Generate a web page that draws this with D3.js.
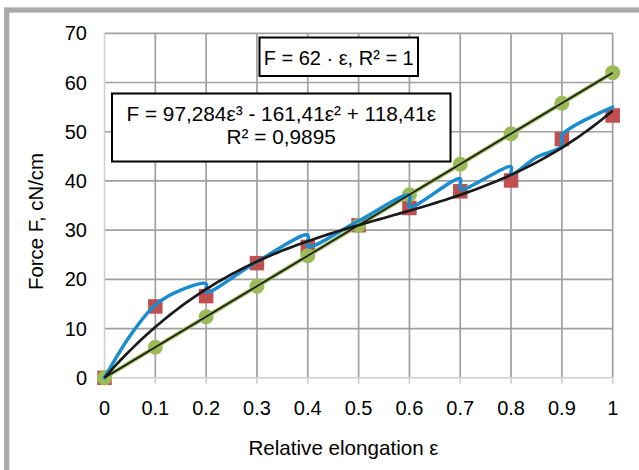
<!DOCTYPE html>
<html>
<head>
<meta charset="utf-8">
<script src="https://cdn.jsdelivr.net/npm/d3@7"></script>
<style>
  html, body { margin: 0; padding: 0; background: #fff; }
  svg { display: block; font-family: "Liberation Sans", Arial, sans-serif; }
</style>
</head>
<body>
<svg id="chart" width="639" height="470"></svg>
<script>
// ---- data ----
const epsilon = [0, 0.1, 0.2, 0.3, 0.4, 0.5, 0.6, 0.7, 0.8, 0.9, 1];
const greenF = [0, 6.2, 12.4, 18.6, 24.8, 31, 37.2, 43.4, 49.6, 55.8, 62];
const redF = [0, 14.5, 16.6, 23.3, 26.6, 31.0, 34.5, 37.9, 40.1, 48.5, 53.3];
const blueE = [0, 0.05, 0.1, 0.15, 0.2, 0.2, 0.3, 0.4, 0.4, 0.5, 0.6, 0.6, 0.7, 0.7, 0.8, 0.8, 0.85, 0.9, 0.9, 1.0];
const blueF = [0, 8.5, 14.8, 17.8, 19.1, 17.4, 23.6, 29.0, 26.7, 31.9, 37.1, 34.7, 40.5, 38.3, 42.9, 41.3, 44.8, 47.1, 49.3, 55.0];
const polyCoef = [0, 118.41, -161.41, 97.284]; // F = c1 e + c2 e^2 + c3 e^3
const linSlope = 62;
const xTicks = [0, 0.1, 0.2, 0.3, 0.4, 0.5, 0.6, 0.7, 0.8, 0.9, 1];
const xTickLabels = ["0", "0.1", "0.2", "0.3", "0.4", "0.5", "0.6", "0.7", "0.8", "0.9", "1"];
const yTicks = [0, 10, 20, 30, 40, 50, 60, 70];
const linLabel = "F = 62 · ε, R² = 1";
const polyLabel1 = "F = 97,284ε³ - 161,41ε² + 118,41ε";
const polyLabel2 = "R² = 0,9895";
const xTitle = "Relative elongation ε";
const yTitle = "Force F, cN/cm";

// ---- drawing ----
const svg = d3.select("#chart");
const FONT = 20;

// frame
svg.append("rect").attr("x", 0).attr("y", 0).attr("width", 639).attr("height", 470).attr("fill", "#fff");
svg.append("rect").attr("x", 6.7).attr("y", 10).attr("width", 700).attr("height", 520)
  .attr("fill", "#fff").attr("stroke", "#a9a9a9").attr("stroke-width", 5.3);

const x = d3.scaleLinear().domain([0, 1]).range([104.5, 612.7]);
const y = d3.scaleLinear().domain([0, 70]).range([377.8, 33.3]);

// grid
const grid = svg.append("g");
grid.selectAll("line.v").data(xTicks.filter(d => d > 0)).join("line")
  .attr("x1", d => x(d)).attr("x2", d => x(d)).attr("y1", y(70)).attr("y2", y(0))
  .attr("stroke", "#a0a0a0").attr("stroke-width", 1.7);
grid.selectAll("line.h").data(yTicks.filter(d => d > 0)).join("line")
  .attr("x1", x(0)).attr("x2", x(1)).attr("y1", d => y(d)).attr("y2", d => y(d))
  .attr("stroke", "#a0a0a0").attr("stroke-width", 1.7);
// axis lines (lighter)
svg.append("line").attr("x1", x(0)).attr("x2", x(0)).attr("y1", y(70)).attr("y2", y(0))
  .attr("stroke", "#d0d0d0").attr("stroke-width", 1.6);
svg.append("line").attr("x1", x(0)).attr("x2", x(1)).attr("y1", y(0)).attr("y2", y(0))
  .attr("stroke", "#d0d0d0").attr("stroke-width", 1.6);
svg.selectAll("line.xt").data(xTicks).join("line")
  .attr("x1", d => x(d)).attr("x2", d => x(d)).attr("y1", y(0)).attr("y2", y(0) + 6)
  .attr("stroke", "#d0d0d0").attr("stroke-width", 1.6);

// tick labels
svg.append("g").selectAll("text").data(xTicks).join("text")
  .attr("x", d => x(d)).attr("y", 415).attr("text-anchor", "middle")
  .attr("font-size", FONT).attr("fill", "#000")
  .text((d, i) => xTickLabels[i]);
svg.append("g").selectAll("text").data(yTicks).join("text")
  .attr("x", 87).attr("y", d => y(d)).attr("dy", "0.35em").attr("text-anchor", "end")
  .attr("font-size", FONT).attr("fill", "#000")
  .text(d => d);

// axis titles
svg.append("text").attr("x", 343.5).attr("y", 455).attr("text-anchor", "middle")
  .attr("font-size", 20.6).attr("fill", "#000").text(xTitle);
svg.append("text").attr("transform", "translate(43,221.5) rotate(-90)").attr("text-anchor", "middle")
  .attr("font-size", 20.4).attr("fill", "#000").text(yTitle);

// red squares
const sq = 14.5;
svg.append("g").selectAll("rect").data(epsilon).join("rect")
  .attr("x", d => x(d) - sq / 2).attr("y", (d, i) => y(redF[i]) - sq / 2)
  .attr("width", sq).attr("height", sq).attr("fill", "#c0504d");

// green line + circles
const greenPts = epsilon.map((e, i) => [e, greenF[i]]);
svg.append("path").datum(greenPts)
  .attr("d", d3.line().x(d => x(d[0])).y(d => y(d[1])))
  .attr("fill", "none").attr("stroke", "#9bbb59").attr("stroke-width", 4);
svg.append("g").selectAll("circle").data(greenPts).join("circle")
  .attr("cx", d => x(d[0])).attr("cy", d => y(d[1])).attr("r", 7.5).attr("fill", "#9bbb59");

// blue line
const bluePts = blueE.map((e, i) => [e, blueF[i]]);
svg.append("path").datum(bluePts)
  .attr("d", d3.line().x(d => x(d[0])).y(d => y(d[1])).curve(d3.curveCatmullRom.alpha(0.5)))
  .attr("fill", "none").attr("stroke", "#1a8dd0").attr("stroke-width", 3.5)
  .attr("stroke-linejoin", "round").attr("stroke-linecap", "round");

// polynomial trendline
const polyPts = d3.range(0, 101).map(k => {
  const e = k / 100;
  return [e, polyCoef[1] * e + polyCoef[2] * e * e + polyCoef[3] * e * e * e];
});
svg.append("path").datum(polyPts)
  .attr("d", d3.line().x(d => x(d[0])).y(d => y(d[1])))
  .attr("fill", "none").attr("stroke", "#1a1a1a").attr("stroke-width", 2.7);

// linear trendline
svg.append("path").datum([[0, 0], [1, linSlope]])
  .attr("d", d3.line().x(d => x(d[0])).y(d => y(d[1])))
  .attr("fill", "none").attr("stroke", "#1a1a1a").attr("stroke-width", 1.7);

// label boxes
svg.append("rect").attr("x", 259.5).attr("y", 37.5).attr("width", 158.5).attr("height", 38.5)
  .attr("fill", "#fff").attr("stroke", "#000").attr("stroke-width", 2);
svg.append("text").attr("x", 338.7).attr("y", 64.5).attr("text-anchor", "middle")
  .attr("font-size", FONT).attr("fill", "#000").text(linLabel);

svg.append("rect").attr("x", 112).attr("y", 93.5).attr("width", 338.5).attr("height", 68)
  .attr("fill", "#fff").attr("stroke", "#000").attr("stroke-width", 2);
svg.append("text").attr("x", 281.2).attr("y", 121).attr("text-anchor", "middle")
  .attr("font-size", 20.8).attr("fill", "#000").text(polyLabel1);
svg.append("text").attr("x", 281.2).attr("y", 144).attr("text-anchor", "middle")
  .attr("font-size", 20.8).attr("fill", "#000").text(polyLabel2);
</script>
</body>
</html>
